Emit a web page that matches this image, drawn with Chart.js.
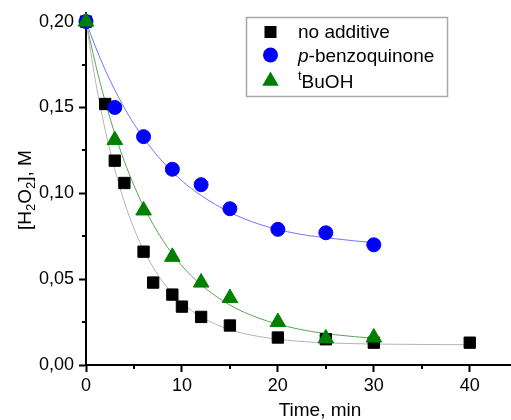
<!DOCTYPE html>
<html>
<head>
<meta charset="utf-8">
<script src="https://cdn.jsdelivr.net/npm/chart.js@4.4.1/dist/chart.umd.min.js"></script>
<style>
    html, body { margin: 0; padding: 0; background: #fff; }
    #wrap { width: 511px; height: 420px; }
</style>
</head>
<body>
<div id="wrap"><canvas id="chart" width="511" height="420"></canvas></div>
<script>
// Misure: [H2O2] (M) nel tempo (min)
const timeNoAdd = [0, 2, 3, 4, 6, 7, 9, 10, 12, 15, 20, 25, 30, 40];
const h2o2NoAdd = [0.200, 0.152, 0.119, 0.106, 0.066, 0.048, 0.041, 0.034, 0.028, 0.023, 0.016, 0.015, 0.013, 0.013];

const timeBq = [0, 3, 6, 9, 12, 15, 20, 25, 30];
const h2o2Bq = [0.200, 0.150, 0.133, 0.114, 0.105, 0.091, 0.079, 0.077, 0.070];

const timeTbu = [0, 3, 6, 9, 12, 15, 20, 25, 30];
const h2o2Tbu = [0.200, 0.131, 0.090, 0.063, 0.048, 0.039, 0.025, 0.0155, 0.016];

// Curve di fit (decadimento esponenziale)
const fitTimeNoAdd = [0, 1, 2, 3, 4, 5, 6, 7, 8, 10, 12, 15, 18, 22, 26, 32, 40];
const fitNoAdd = [0.200, 0.165, 0.137, 0.114, 0.0949, 0.0795, 0.0671, 0.0569, 0.0485, 0.0362, 0.0280, 0.0206, 0.0166, 0.0139, 0.0127, 0.0121, 0.0118];

const fitTimeBq = [0, 1, 2, 3, 4, 5, 6, 8, 10, 12, 15, 18, 22, 26, 30];
const fitBq = [0.200, 0.1851, 0.1719, 0.1602, 0.1497, 0.1404, 0.1322, 0.1183, 0.1073, 0.0987, 0.0889, 0.0821, 0.0765, 0.0735, 0.0712];

const fitTimeTbu = [0, 1, 2, 3, 4, 5, 6, 8, 10, 12, 15, 18, 22, 26, 30];
const fitTbu = [0.200, 0.175, 0.1535, 0.1348, 0.1186, 0.1046, 0.0923, 0.0727, 0.0578, 0.0467, 0.0349, 0.0273, 0.0211, 0.0176, 0.0156];

// Tacche degli assi
const xMajorTicks = [0, 10, 20, 30, 40];
const xMinorTicks = [5, 15, 25, 35];
const yMajorTicks = [0, 0.05, 0.10, 0.15, 0.20];
const yMinorTicks = [0.025, 0.075, 0.125, 0.175];

const FONT = "'Liberation Sans', Arial, sans-serif";

function toPoints(xs, ys) {
    return xs.map((x, i) => ({ x: x, y: ys[i] }));
}

function fitDataset(xs, ys, color) {
    return {
        type: 'line',
        data: toPoints(xs, ys),
        borderColor: color,
        borderWidth: 1,
        pointRadius: 0,
        fill: false,
        showLine: true,
        cubicInterpolationMode: 'monotone',
        order: 5
    };
}

// Disegna un simbolo (quadrato, cerchio, triangolo) come fa Chart.js
function drawSymbol(ctx, style, x, y, r, color) {
    ctx.save();
    ctx.fillStyle = color;
    ctx.beginPath();
    if (style === 'rect') {
        const s = Math.SQRT1_2 * r;
        ctx.rect(x - s, y - s, 2 * s, 2 * s);
    } else if (style === 'circle') {
        ctx.arc(x, y, r, 0, Math.PI * 2);
    } else {
        ctx.moveTo(x, y - r);
        ctx.lineTo(x + r * Math.sin(Math.PI * 2 / 3), y + r / 2);
        ctx.lineTo(x - r * Math.sin(Math.PI * 2 / 3), y + r / 2);
        ctx.closePath();
    }
    ctx.fill();
    ctx.restore();
}

// Scrive pezzi di testo con font diversi uno dopo l'altro
function drawRuns(ctx, runs, x, y) {
    let cx = x;
    runs.forEach(run => {
        ctx.font = run.font;
        ctx.fillText(run.text, cx, y + (run.dy || 0));
        cx += ctx.measureText(run.text).width;
    });
}

function runsWidth(ctx, runs) {
    let w = 0;
    runs.forEach(run => {
        ctx.font = run.font;
        w += ctx.measureText(run.text).width;
    });
    return w;
}

const decorPlugin = {
    id: 'decor',
    afterDraw(chart) {
        const ctx = chart.ctx;
        const xs = chart.scales.x;
        const ys = chart.scales.y;
        const area = chart.chartArea;

        ctx.save();
        ctx.strokeStyle = '#000';
        ctx.lineWidth = 2;

        // tacche secondarie
        xMinorTicks.forEach(v => {
            const px = Math.round(xs.getPixelForValue(v));
            ctx.beginPath();
            ctx.moveTo(px, area.bottom);
            ctx.lineTo(px, area.bottom + 4);
            ctx.stroke();
        });
        yMinorTicks.forEach(v => {
            const py = Math.round(ys.getPixelForValue(v));
            ctx.beginPath();
            ctx.moveTo(area.left, py);
            ctx.lineTo(area.left - 4, py);
            ctx.stroke();
        });

        ctx.fillStyle = '#000';
        ctx.textBaseline = 'alphabetic';
        ctx.textAlign = 'left';

        // titolo asse x
        ctx.font = '19px ' + FONT;
        const xTitle = 'Time, min';
        const xw = ctx.measureText(xTitle).width;
        ctx.fillText(xTitle, 320 - xw / 2, 416);

        // titolo asse y con pedici
        const big = '19px ' + FONT;
        const small = '13px ' + FONT;
        const yRuns = [
            { text: '[H', font: big },
            { text: '2', font: small, dy: 4 },
            { text: 'O', font: big },
            { text: '2', font: small, dy: 4 },
            { text: '], M', font: big }
        ];
        const yw = runsWidth(ctx, yRuns);
        ctx.save();
        ctx.translate(31, 190);
        ctx.rotate(-Math.PI / 2);
        drawRuns(ctx, yRuns, -yw / 2, 0);
        ctx.restore();

        // legenda
        ctx.strokeStyle = '#a8a8a8';
        ctx.lineWidth = 1.5;
        ctx.strokeRect(246.5, 17.5, 201, 79);

        const ds = chart.data.datasets;
        const rows = [
            { set: ds[0], cy: 32, base: 37.5, runs: [{ text: 'no additive', font: big }] },
            { set: ds[1], cy: 55, base: 61.5, runs: [{ text: 'p', font: 'italic ' + big }, { text: '-benzoquinone', font: big }] },
            { set: ds[2], cy: 81, base: 88, runs: [{ text: 't', font: small, dy: -8 }, { text: 'BuOH', font: big }] }
        ];
        rows.forEach(row => {
            drawSymbol(ctx, row.set.pointStyle, 270.5, row.cy, row.set.pointRadius + 0.5, row.set.backgroundColor);
            ctx.fillStyle = '#000';
            drawRuns(ctx, row.runs, 298, row.base);
        });
        ctx.restore();
    }
};

const ctx = document.getElementById('chart').getContext('2d');

new Chart(ctx, {
    type: 'scatter',
    data: {
        datasets: [
            {
                label: 'no additive',
                data: toPoints(timeNoAdd, h2o2NoAdd),
                pointStyle: 'rect',
                pointRadius: 8,
                backgroundColor: '#000000',
                borderColor: '#000000',
                borderWidth: 1,
                clip: false,
                order: 3
            },
            {
                label: 'p-benzoquinone',
                data: toPoints(timeBq, h2o2Bq),
                pointStyle: 'circle',
                pointRadius: 7,
                backgroundColor: '#0000ff',
                borderColor: '#0000ff',
                borderWidth: 1,
                clip: false,
                order: 2
            },
            {
                label: 'tBuOH',
                data: toPoints(timeTbu, h2o2Tbu),
                pointStyle: 'triangle',
                pointRadius: 9,
                backgroundColor: '#008000',
                borderColor: '#008000',
                borderWidth: 1,
                clip: false,
                order: 1
            },
            fitDataset(fitTimeNoAdd, fitNoAdd, '#b4b4b4'),
            fitDataset(fitTimeBq, fitBq, '#7474ff'),
            fitDataset(fitTimeTbu, fitTbu, '#52a852')
        ]
    },
    options: {
        responsive: false,
        animation: false,
        events: [],
        layout: { autoPadding: false, padding: { top: 13, right: 0, bottom: 0, left: 0 } },
        plugins: {
            legend: { display: false },
            tooltip: { enabled: false }
        },
        scales: {
            x: {
                type: 'linear',
                min: 0,
                max: 44.3,
                afterFit(scale) {
                    scale.height = 55;
                    scale.paddingLeft = 0;
                    scale.paddingRight = 0;
                },
                afterBuildTicks(scale) { scale.ticks = xMajorTicks.map(v => ({ value: v })); },
                border: { display: true, color: '#000', width: 2 },
                grid: { display: true, drawOnChartArea: false, drawTicks: true, tickLength: 7, tickWidth: 2, tickColor: '#000' },
                ticks: {
                    color: '#000',
                    font: { family: FONT, size: 18 },
                    padding: 3,
                    maxRotation: 0,
                    callback: v => String(v)
                }
            },
            y: {
                type: 'linear',
                min: 0,
                max: 0.205,
                afterFit(scale) {
                    scale.width = 86;
                    scale.paddingTop = 0;
                    scale.paddingBottom = 0;
                },
                afterBuildTicks(scale) { scale.ticks = yMajorTicks.map(v => ({ value: v })); },
                border: { display: true, color: '#000', width: 2 },
                grid: { display: true, drawOnChartArea: false, drawTicks: true, tickLength: 7, tickWidth: 2, tickColor: '#000' },
                ticks: {
                    color: '#000',
                    font: { family: FONT, size: 18 },
                    padding: 5,
                    callback: v => v.toFixed(2).replace('.', ',')
                }
            }
        }
    },
    plugins: [decorPlugin]
});
</script>
</body>
</html>
